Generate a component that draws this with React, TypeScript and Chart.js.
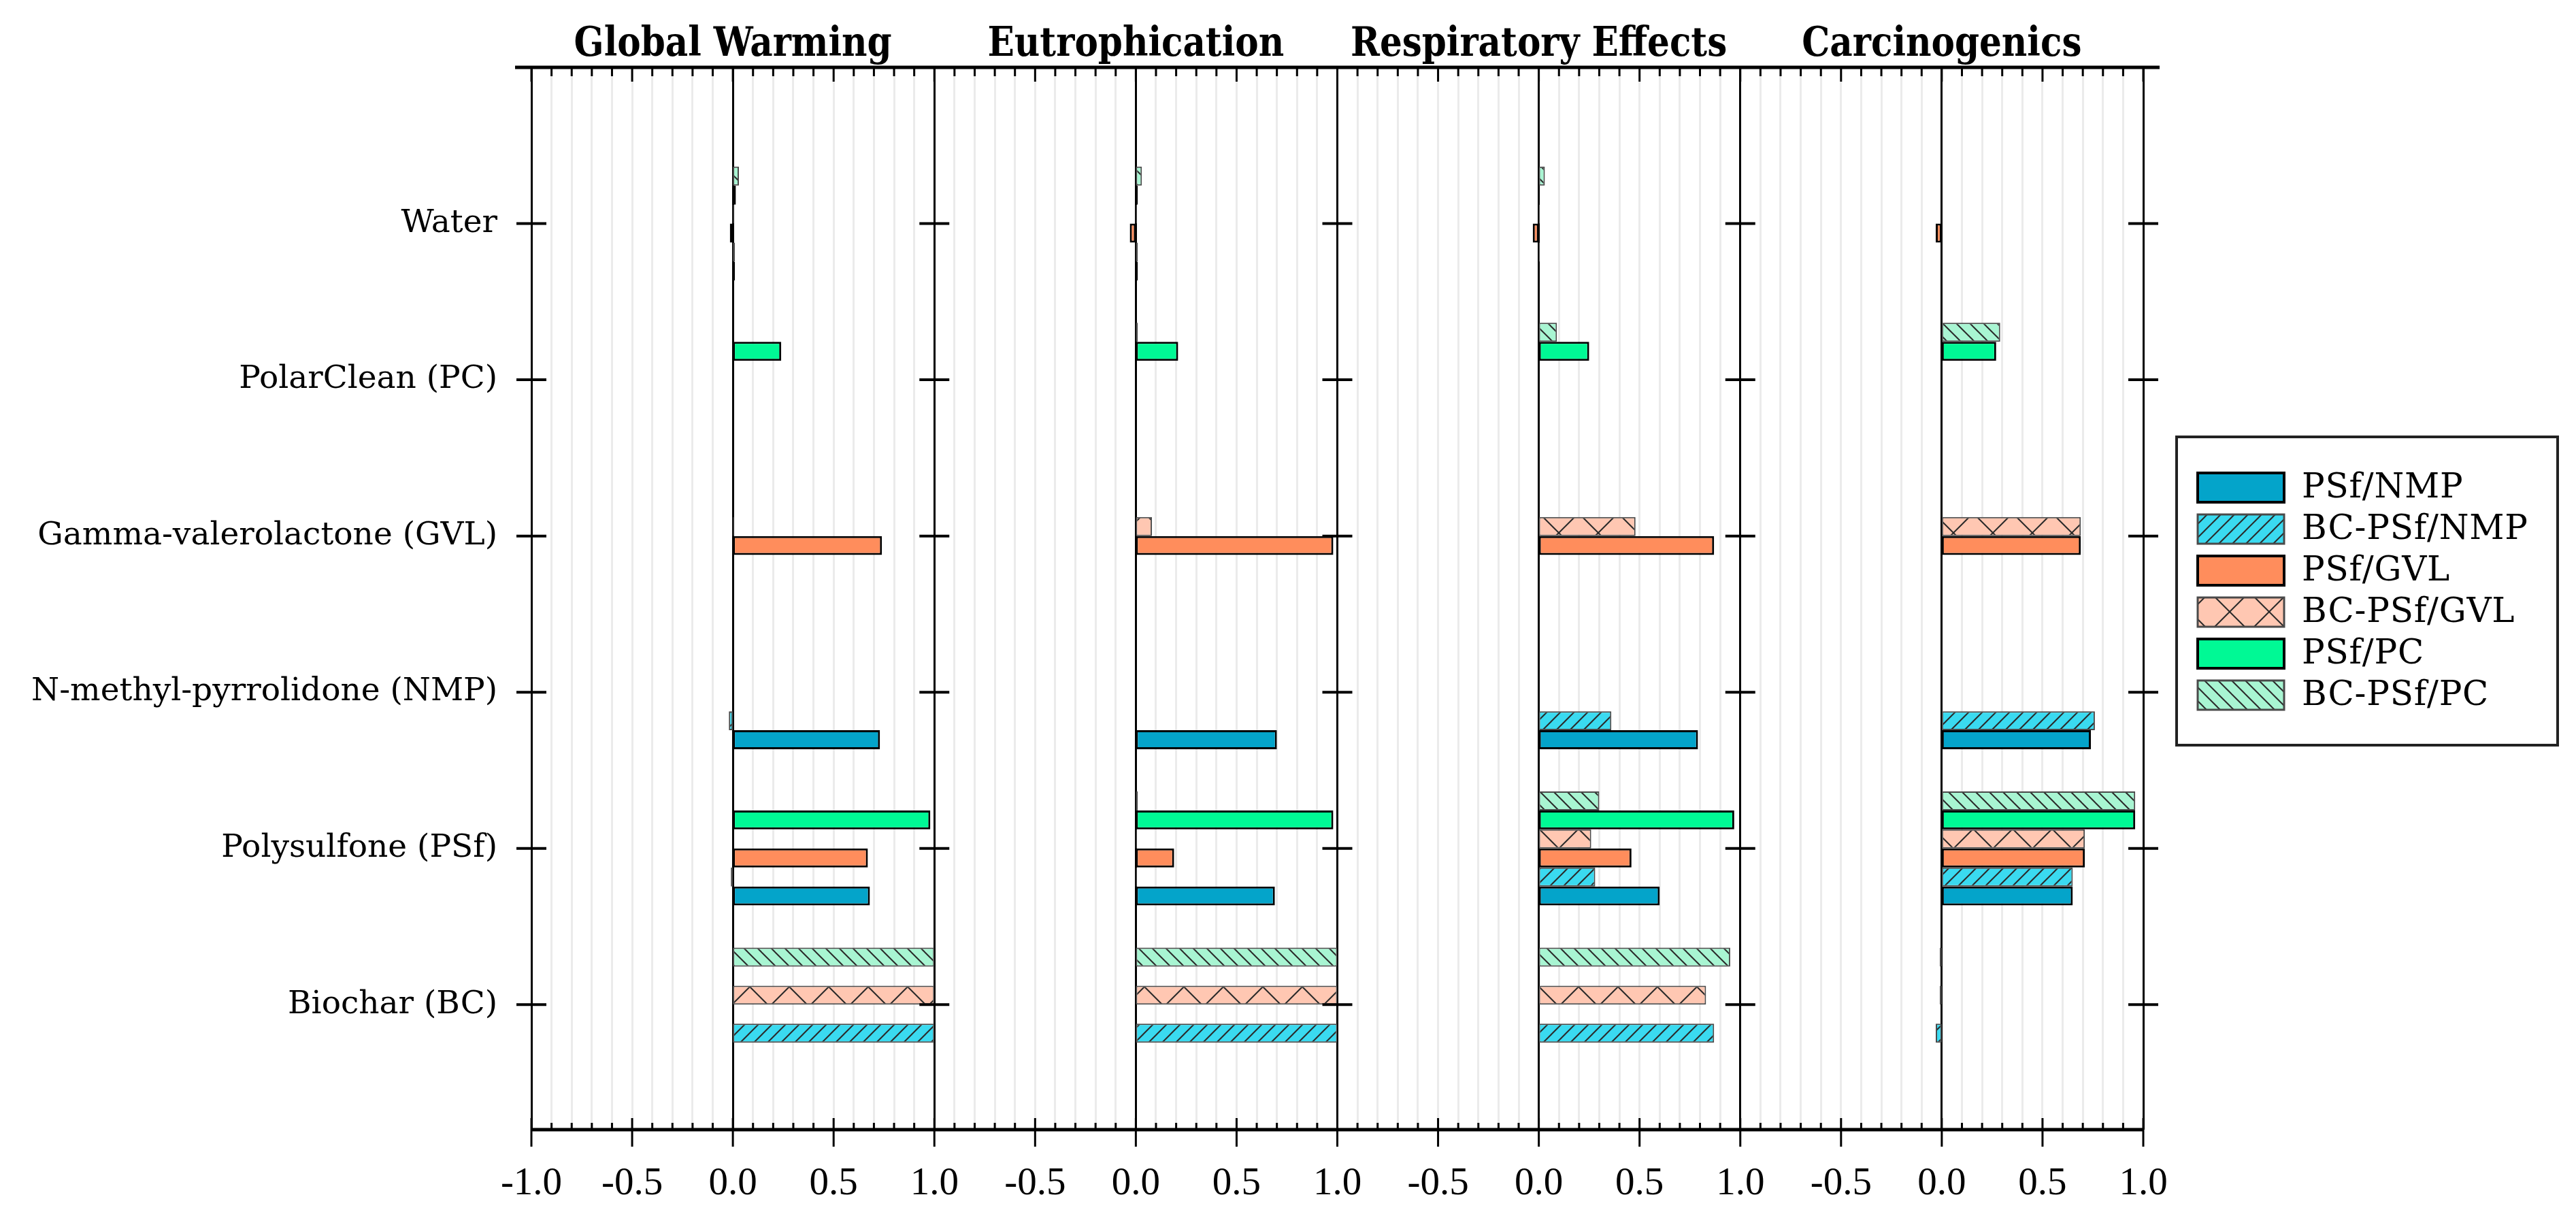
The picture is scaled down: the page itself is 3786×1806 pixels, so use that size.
import React, { useEffect, useRef } from "react";
import { Chart, registerables } from "chart.js";

Chart.register(...registerables);

// ---------- data ----------
// categories from bottom to top of the chart
const categories = [
  "Biochar (BC)",
  "Polysulfone (PSf)",
  "N-methyl-pyrrolidone (NMP)",
  "Gamma-valerolactone (GVL)",
  "PolarClean (PC)",
  "Water",
];
const categoryPositions = [1, 2, 3, 4, 5, 6];
const panelTitles = ["Global Warming", "Eutrophication", "Respiratory Effects", "Carcinogenics"];
const seriesNames = ["PSf/NMP", "BC-PSf/NMP", "PSf/GVL", "BC-PSf/GVL", "PSf/PC", "BC-PSf/PC"];

// each row = one panel (GW, EU, RE, CA); each column = category (BC, PSf, NMP, GVL, PC, Water)
const psfNmp = [
  [0, 0.68, 0.73, 0, 0, 0.01],
  [0, 0.69, 0.7, 0, 0, 0.01],
  [0, 0.6, 0.79, 0, 0, 0.005],
  [0, 0.65, 0.74, 0, 0, 0],
];
const bcPsfNmp = [
  [1.0, -0.01, -0.02, 0, 0, 0.01],
  [1.0, 0.005, 0, 0, 0, 0.01],
  [0.87, 0.28, 0.36, 0, 0, 0.005],
  [-0.03, 0.65, 0.76, 0, 0, 0],
];
const psfGvl = [
  [0, 0.67, 0, 0.74, 0, -0.015],
  [0, 0.19, 0, 0.98, 0, -0.03],
  [0, 0.46, 0, 0.87, 0, -0.03],
  [0, 0.71, 0, 0.69, 0, -0.03],
];
const bcPsfGvl = [
  [1.0, 0, 0, 0.005, 0, 0.005],
  [1.0, 0.005, 0, 0.08, 0, 0.005],
  [0.83, 0.26, 0, 0.48, 0, 0.005],
  [-0.01, 0.71, 0, 0.69, 0, 0],
];
const psfPc = [
  [0, 0.98, 0, 0, 0.24, 0.015],
  [0, 0.98, 0, 0, 0.21, 0.01],
  [0, 0.97, 0, 0, 0.25, 0.005],
  [0, 0.96, 0, 0, 0.27, 0],
];
const bcPsfPc = [
  [1.0, 0, 0, 0, 0, 0.03],
  [1.0, 0.01, 0, 0, 0.01, 0.03],
  [0.95, 0.3, 0, 0, 0.09, 0.03],
  [-0.01, 0.96, 0, 0, 0.29, 0],
];
const seriesValues = [psfNmp, bcPsfNmp, psfGvl, bcPsfGvl, psfPc, bcPsfPc];

// ---------- helpers ----------
function makePattern(
  ctx: CanvasRenderingContext2D,
  bg: string,
  kind: "fwd" | "back" | "cross",
  size: number,
  lw: number
): CanvasPattern | string {
  const c = document.createElement("canvas");
  c.width = size;
  c.height = size;
  const g = c.getContext("2d");
  if (!g) return bg;
  g.fillStyle = bg;
  g.fillRect(0, 0, size, size);
  g.strokeStyle = "#2a2a2a";
  g.lineWidth = lw;
  const seg = (x1: number, y1: number, x2: number, y2: number) => {
    g.beginPath();
    g.moveTo(x1, y1);
    g.lineTo(x2, y2);
    g.stroke();
  };
  const e = lw * 2;
  if (kind === "fwd" || kind === "cross") {
    seg(-e, size + e, size + e, -e);
    seg(-e, e, e, -e);
    seg(size - e, size + e, size + e, size - e);
  }
  if (kind === "back" || kind === "cross") {
    seg(-e, -e, size + e, size + e);
    seg(size - e, -e, size + e, e);
    seg(-e, size - e, e, size + e);
  }
  return ctx.createPattern(c, "repeat") || bg;
}

const panelZero = (p: number) => 2 * p + 1;

function buildData(values: number[][]) {
  const out: { x: [number, number]; y: number }[] = [];
  values.forEach((panelVals, p) => {
    panelVals.forEach((v, c) => {
      out.push({ y: categoryPositions[c], x: [panelZero(p), panelZero(p) + v] });
    });
  });
  return out;
}

function fmtTick(v: number): string {
  const r = Math.round(v * 10);
  if (r % 5 !== 0) return "";
  if (r === 0) return "-1.0";
  if (r % 20 === 0) return "1.0";
  const local = (r % 20) / 10 - 1;
  return local.toFixed(1);
}

export default function App() {
  const ref = useRef<HTMLCanvasElement>(null);

  useEffect(() => {
    const canvas = ref.current;
    if (!canvas) return;
    const ctx0 = canvas.getContext("2d");
    if (!ctx0) return;

    const fills: (string | CanvasPattern)[] = [
      "#04A4CA",
      makePattern(ctx0, "#3ADAF0", "fwd", 20, 2),
      "#FF8D5C",
      makePattern(ctx0, "#FFC7B2", "cross", 58, 2),
      "#00F995",
      makePattern(ctx0, "#A8F5D2", "back", 20, 2),
    ];
    const borders = ["#000", "#4a4a4a", "#000", "#4a4a4a", "#000", "#4a4a4a"];
    const bWidths = [3, 2, 3, 2, 3, 2];

    const datasets = seriesNames
      .map((name, s) => ({
        label: name,
        data: buildData(seriesValues[s]),
        backgroundColor: fills[s],
        borderColor: borders[s],
        borderWidth: bWidths[s],
        borderSkipped: false as const,
        categoryPercentage: 0.73,
        barPercentage: 1.0,
      }))
      .reverse();

    const line = (c: CanvasRenderingContext2D, x1: number, y1: number, x2: number, y2: number) => {
      c.beginPath();
      c.moveTo(x1, y1);
      c.lineTo(x2, y2);
      c.stroke();
    };

    const overlay = {
      id: "overlay",
      afterDraw(chart: any) {
        const { ctx, chartArea: ca } = chart;
        const x = chart.scales.x;
        const y = chart.scales.y;
        ctx.save();
        // titles
        ctx.fillStyle = "#000";
        ctx.font = 'bold 60px "DejaVu Serif"';
        ctx.textAlign = "center";
        ctx.textBaseline = "alphabetic";
        panelTitles.forEach((t, p) => {
          const cx = x.getPixelForValue(panelZero(p));
          ctx.save();
          ctx.translate(cx, 82);
          ctx.scale(0.86, 1);
          ctx.fillText(t, 0, 0);
          ctx.restore();
        });
        // axis lines
        ctx.strokeStyle = "#000";
        ctx.lineCap = "butt";
        ctx.lineWidth = 5;
        line(ctx, ca.left - 24, ca.top, ca.right + 24, ca.top);
        line(ctx, ca.left, ca.bottom, ca.right, ca.bottom);
        // tick marks
        ctx.lineWidth = 3;
        for (let i = 0; i <= 80; i++) {
          const px = x.getPixelForValue(i / 10);
          const major = i % 5 === 0;
          line(ctx, px, ca.top, px, ca.top + (major ? 21 : 13));
          if (major) line(ctx, px, ca.bottom - 17, px, ca.bottom + 25);
          else line(ctx, px, ca.bottom, px, ca.bottom - 10);
        }
        // category ticks on panel edges
        ctx.lineWidth = 4;
        for (let p = 0; p <= 4; p++) {
          const px = x.getPixelForValue(2 * p);
          categoryPositions.forEach((c) => {
            const py = y.getPixelForValue(c);
            line(ctx, px - 22, py, px + 22, py);
          });
        }
        // legend
        const lx = 3199, ly = 642, lw = 560, lh = 453;
        ctx.lineWidth = 4;
        ctx.strokeStyle = "#222";
        ctx.strokeRect(lx, ly, lw, lh);
        ctx.font = '50px "DejaVu Serif"';
        try {
          (ctx as any).letterSpacing = "0.8px";
        } catch (e) {}
        ctx.textAlign = "left";
        ctx.textBaseline = "middle";
        seriesNames.forEach((name, i) => {
          const top = 695 + i * 61;
          ctx.fillStyle = fills[i];
          ctx.fillRect(3230, top, 127, 43);
          ctx.strokeStyle = borders[i];
          ctx.lineWidth = bWidths[i] + 1;
          ctx.strokeRect(3230, top, 127, 43);
          ctx.fillStyle = "#000";
          ctx.fillText(name, 3383, top + 23);
        });
        ctx.restore();
      },
    };

    const chart = new Chart(canvas, {
      type: "bar",
      data: { datasets: datasets as any },
      options: {
        indexAxis: "y",
        animation: false,
        responsive: false,
        maintainAspectRatio: false,
        layout: { padding: { left: 0, right: 636, top: 99, bottom: 0 } },
        plugins: {
          legend: { display: false },
          tooltip: { enabled: false },
          title: { display: false },
        },
        scales: {
          x: {
            type: "linear",
            min: 0,
            max: 8,
            offset: false,
            afterBuildTicks: (s: any) => {
              s.ticks = Array.from({ length: 81 }, (_, i) => ({ value: i / 10 }));
            },
            afterFit: (s: any) => {
              s.height = 146;
            },
            grid: {
              drawTicks: false,
              color: (c: any) =>
                Math.abs(c.tick.value - Math.round(c.tick.value)) < 1e-6 ? "#000" : "#ebebeb",
              lineWidth: 3,
            },
            border: { display: false },
            ticks: {
              autoSkip: false,
              maxRotation: 0,
              minRotation: 0,
              padding: 46,
              color: "#000",
              font: { family: '"Liberation Serif"', size: 57 },
              callback: (v: any) => fmtTick(Number(v)),
            },
          },
          y: {
            type: "linear",
            min: 0.2,
            max: 7.0,
            offset: false,
            afterBuildTicks: (s: any) => {
              s.ticks = categoryPositions.map((v) => ({ value: v }));
            },
            afterFit: (s: any) => {
              s.width = 781;
            },
            grid: { display: false, drawTicks: false, offset: false },
            border: { display: false },
            ticks: {
              padding: 50,
              color: "#000",
              font: { family: '"DejaVu Serif"', size: 47 },
              callback: (v: any) => categories[categoryPositions.indexOf(Number(v))],
            },
          },
        },
      },
      plugins: [overlay],
    } as any);

    return () => chart.destroy();
  }, []);

  return (
    <div style={{ position: "absolute", left: 0, top: 0, width: 3786, height: 1806, background: "#fff" }}>
      <canvas ref={ref} width={3786} height={1806} style={{ display: "block", width: 3786, height: 1806 }} />
    </div>
  );
}
